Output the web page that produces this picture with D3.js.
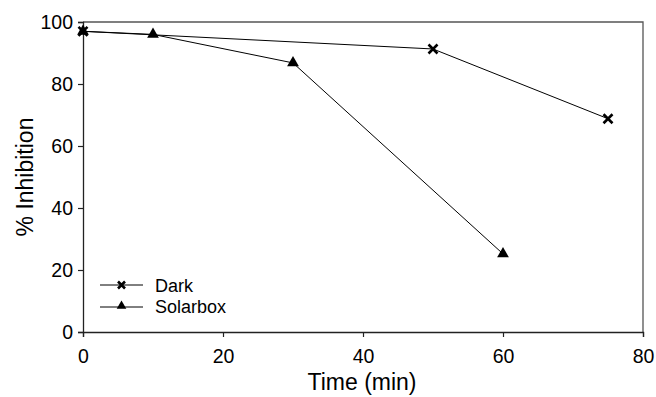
<!DOCTYPE html>
<html>
<head>
<meta charset="utf-8">
<script src="https://cdn.jsdelivr.net/npm/d3@7"></script>
<style>
  body { margin: 0; background: #fff; }
  svg { font-family: Arial, "Liberation Sans", sans-serif; }
</style>
</head>
<body>
<svg id="chart" width="656" height="397"></svg>
<script>
// data
const darkTime = [0, 50, 75];
const darkInhibition = [97, 91.3, 68.8];
const solarTime = [0, 10, 30, 60];
const solarInhibition = [97, 96, 86.8, 25.2];
const xTicks = [0, 20, 40, 60, 80];
const yTicks = [0, 20, 40, 60, 80, 100];

const margin = { top: 22, right: 13, bottom: 65, left: 83 };
const width = 656, height = 397;

const svg = d3.select('#chart');

const x = d3.scaleLinear().domain([0, 80]).range([margin.left, width - margin.right]);
const y = d3.scaleLinear().domain([0, 100]).range([height - margin.bottom, margin.top]);

// frame (top and right)
svg.append('path')
  .attr('d', `M${x(0)},${y(100)}H${x(80)}V${y(0)}`)
  .attr('fill', 'none')
  .attr('stroke', '#555')
  .attr('stroke-width', 1.3);

const xAxis = svg.append('g')
  .attr('transform', `translate(0,${y(0)})`)
  .call(d3.axisBottom(x).tickValues(xTicks).tickSize(5).tickPadding(12));

const yAxis = svg.append('g')
  .attr('transform', `translate(${x(0)},0)`)
  .call(d3.axisLeft(y).tickValues(yTicks).tickSize(5).tickPadding(5));

[xAxis, yAxis].forEach(g => {
  g.select('.domain').attr('stroke', '#222').attr('stroke-width', 1.3);
  g.selectAll('.tick line').attr('stroke', '#222').attr('stroke-width', 1.2);
  g.selectAll('.tick text')
    .attr('fill', '#000')
    .style('font-size', '19.5px')
    .style('font-family', 'Arial, "Liberation Sans", sans-serif');
});

// axis titles
svg.append('text')
  .attr('x', 362)
  .attr('y', 390)
  .attr('text-anchor', 'middle')
  .style('font-size', '23px')
  .text('Time (min)');

svg.append('text')
  .attr('transform', `translate(33,${(y(0) + y(100)) / 2}) rotate(-90)`)
  .attr('text-anchor', 'middle')
  .style('font-size', '23px')
  .text('% Inhibition');

const line = d3.line().x(d => x(d[0])).y(d => y(d[1]));

const dark = darkTime.map((t, i) => [t, darkInhibition[i]]);
const solar = solarTime.map((t, i) => [t, solarInhibition[i]]);

const triangle = d3.symbol().type(d3.symbolTriangle).size(60);
const smallTriangle = d3.symbol().type(d3.symbolTriangle).size(40);

function cross(g, cx, cy, s) {
  g.append('path')
    .attr('d', `M${cx - s},${cy - s}L${cx + s},${cy + s}M${cx - s},${cy + s}L${cx + s},${cy - s}`)
    .attr('stroke', '#000')
    .attr('stroke-width', 2.6)
    .attr('fill', 'none');
}

svg.append('path')
  .datum(solar)
  .attr('d', line)
  .attr('fill', 'none')
  .attr('stroke', '#000')
  .attr('stroke-width', 1);

svg.append('path')
  .datum(dark)
  .attr('d', line)
  .attr('fill', 'none')
  .attr('stroke', '#000')
  .attr('stroke-width', 1);

svg.selectAll('.tri')
  .data(solar)
  .join('path')
  .attr('class', 'tri')
  .attr('transform', d => `translate(${x(d[0])},${y(d[1])})`)
  .attr('d', triangle)
  .attr('fill', '#000');

const marks = svg.append('g');
dark.forEach(d => cross(marks, x(d[0]), y(d[1]), 4.5));

// legend
const legend = svg.append('g');
const lx0 = 100, lx1 = 143, ly = [285, 307];
legend.append('line').attr('x1', lx0).attr('x2', lx1).attr('y1', ly[0]).attr('y2', ly[0]).attr('stroke', '#000');
cross(legend, (lx0 + lx1) / 2, ly[0], 3.5);
legend.append('line').attr('x1', lx0).attr('x2', lx1).attr('y1', ly[1]).attr('y2', ly[1]).attr('stroke', '#000');
legend.append('path')
  .attr('transform', `translate(${(lx0 + lx1) / 2},${ly[1] - 1})`)
  .attr('d', smallTriangle)
  .attr('fill', '#000');
legend.append('text').attr('x', 155).attr('y', 292).style('font-size', '18px').text('Dark');
legend.append('text').attr('x', 155).attr('y', 313).style('font-size', '18px').text('Solarbox');
</script>
</body>
</html>
